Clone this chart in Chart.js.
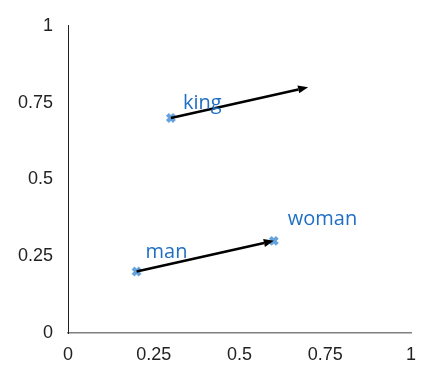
<!DOCTYPE html>
<html>
<head>
<meta charset="utf-8">
<script src="https://cdn.jsdelivr.net/npm/chart.js@4.4.0/dist/chart.umd.min.js"></script>
<style>
  html, body { margin: 0; padding: 0; background: #fff; }
  #wrap { width: 433px; height: 376px; }
</style>
</head>
<body>
<div id="wrap"><canvas id="chart" width="433" height="376"></canvas></div>
<script>
// word vectors
const words = ['king', 'man', 'woman'];
const xValues = [0.3, 0.2, 0.6];
const yValues = [0.7, 0.2, 0.3];

// arrows (from -> to)
const arrowFromX = [0.2, 0.3];
const arrowFromY = [0.2, 0.7];
const arrowToX = [0.6, 0.7];
const arrowToY = [0.3, 0.8];

const tickValues = [0, 0.25, 0.5, 0.75, 1];
const tickLabels = ['0', '0.25', '0.5', '0.75', '1'];

const arrowPlugin = {
  id: 'arrows',
  afterDatasetsDraw(chart) {
    const ctx = chart.ctx;
    const xs = chart.scales.x, ys = chart.scales.y;
    ctx.save();
    ctx.strokeStyle = '#000';
    ctx.fillStyle = '#000';
    ctx.lineWidth = 2.5;
    for (let i = 0; i < arrowFromX.length; i++) {
      const x1 = xs.getPixelForValue(arrowFromX[i]);
      const y1 = ys.getPixelForValue(arrowFromY[i]);
      const x2 = xs.getPixelForValue(arrowToX[i]);
      const y2 = ys.getPixelForValue(arrowToY[i]);
      const ang = Math.atan2(y2 - y1, x2 - x1);
      const headLen = 10, headW = 4;
      const bx = x2 - headLen * Math.cos(ang), by = y2 - headLen * Math.sin(ang);
      ctx.beginPath();
      ctx.moveTo(x1, y1);
      ctx.lineTo(bx, by);
      ctx.stroke();
      ctx.beginPath();
      ctx.moveTo(x2, y2);
      ctx.lineTo(bx + headW * Math.sin(ang), by - headW * Math.cos(ang));
      ctx.lineTo(bx - headW * Math.sin(ang), by + headW * Math.cos(ang));
      ctx.closePath();
      ctx.fill();
    }
    ctx.restore();
  }
};

const labelPlugin = {
  id: 'wordLabels',
  afterDatasetsDraw(chart, args, opts) {
    const ctx = chart.ctx;
    const meta = chart.getDatasetMeta(0);
    ctx.save();
    ctx.font = opts.font;
    ctx.fillStyle = opts.color;
    ctx.textBaseline = 'alphabetic';
    meta.data.forEach((pt, i) => {
      const off = opts.offsets[i];
      ctx.fillText(words[i], pt.x + off[0], pt.y + off[1]);
    });
    ctx.restore();
  }
};

const tickFont = { family: '"Liberation Sans", Arial, sans-serif', size: 18 };
const fmtTick = (v) => tickLabels[tickValues.indexOf(v)] ?? String(v);

new Chart(document.getElementById('chart'), {
  type: 'scatter',
  data: {
    datasets: [{
      data: xValues.map((x, i) => ({ x: x, y: yValues[i] })),
      pointStyle: 'crossRot',
      pointRadius: 5,
      borderWidth: 4,
      borderColor: '#65a3df',
      backgroundColor: '#65a3df'
    }]
  },
  options: {
    responsive: false,
    animation: false,
    layout: { padding: { top: 23, right: 22, left: 0, bottom: 0 } },
    plugins: {
      legend: { display: false },
      tooltip: { enabled: false },
      wordLabels: {
        font: '20px "Open Sans", sans-serif',
        color: '#1f6fc5',
        offsets: [[12, -9], [9, -14], [14, -16]]
      }
    },
    scales: {
      x: {
        min: 0, max: 1,
        afterBuildTicks: (s) => { s.ticks = tickValues.map(v => ({ value: v })); },
        afterFit: (s) => { s.height = 43; },
        grid: { display: false, drawTicks: false },
        border: { display: true, color: '#808080', width: 1.5 },
        ticks: { color: '#222', font: tickFont, padding: 11, maxRotation: 0, callback: fmtTick }
      },
      y: {
        min: 0, max: 1,
        afterBuildTicks: (s) => { s.ticks = tickValues.map(v => ({ value: v })); },
        afterFit: (s) => { s.width = 68; },
        grid: { display: false, drawTicks: false },
        border: { display: true, color: '#222', width: 1 },
        ticks: { color: '#222', font: tickFont, padding: 15, callback: fmtTick }
      }
    }
  },
  plugins: [arrowPlugin, labelPlugin]
});
</script>
</body>
</html>
